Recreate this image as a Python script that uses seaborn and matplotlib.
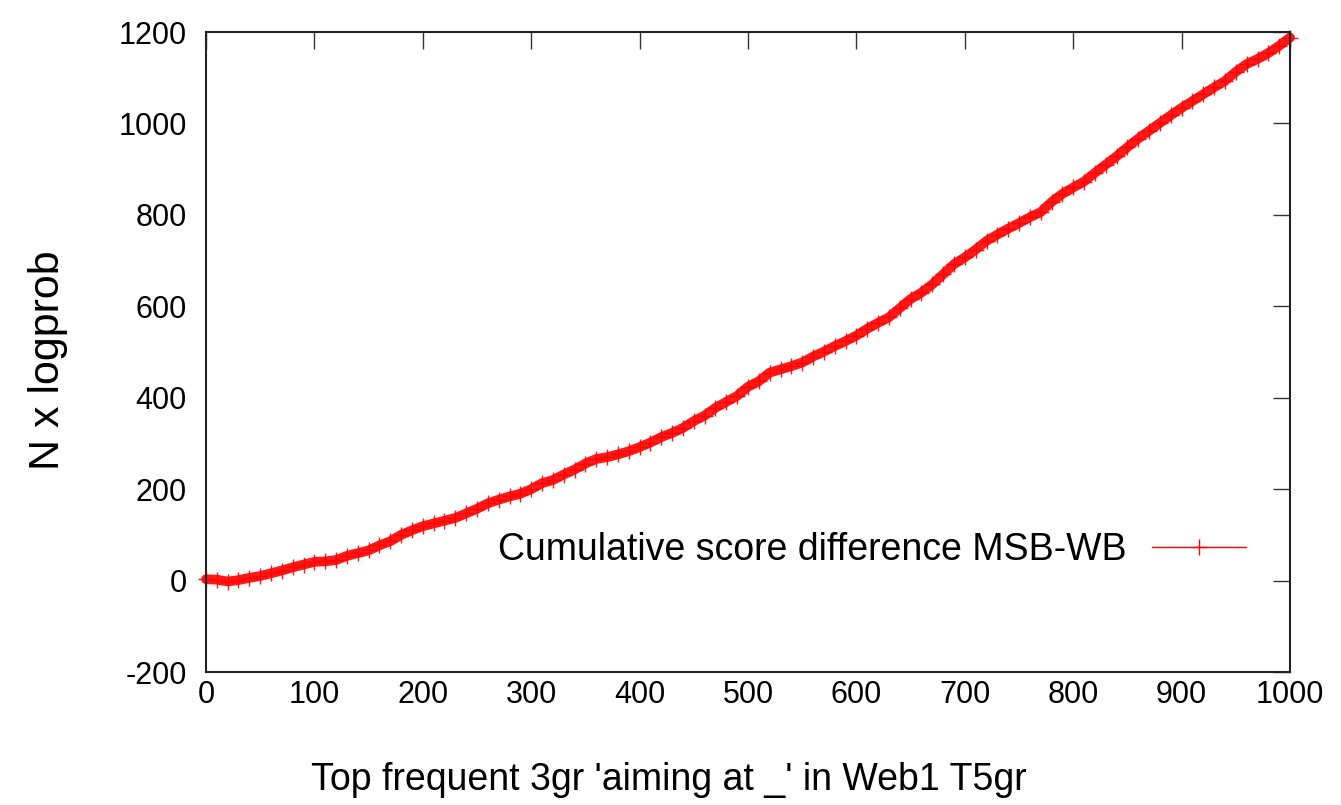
import numpy as np
import pandas as pd
import matplotlib
matplotlib.use("Agg")
import matplotlib.pyplot as plt
import seaborn as sns
from matplotlib.lines import Line2D

# values, every 10 ranks
rank = list(range(0, 1001, 10))
cum_score = [
    3, 2, -2, 1, 6, 10, 16, 22, 29, 35,
    41, 42, 45, 54, 60, 66, 77, 86, 100, 110,
    119, 125, 131, 137, 147, 157, 169, 177, 184, 190,
    200, 213, 220, 232, 243, 256, 266, 270, 276, 283,
    292, 302, 314, 323, 334, 349, 361, 378, 391, 404,
    424, 436, 455, 462, 469, 477, 490, 501, 513, 524,
    536, 551, 564, 576, 596, 616, 630, 648, 670, 692,
    707, 724, 743, 757, 770, 782, 795, 806, 828, 846,
    860, 873, 892, 910, 928, 948, 967, 984, 1001, 1018,
    1034, 1049, 1064, 1079, 1093, 1113, 1130, 1141, 1154, 1170,
    1188,
]
series_label = "Cumulative score difference MSB-WB"
x_ticks = list(range(0, 1001, 100))
y_ticks = list(range(-200, 1201, 200))

df = pd.DataFrame({"rank": rank, "score": cum_score})

sns.set_style("white")
plt.rcParams["font.family"] = ["Liberation Sans", "DejaVu Sans"]
plt.rcParams["axes.unicode_minus"] = False
plt.rcParams["text.color"] = "black"
plt.rcParams["axes.labelcolor"] = "black"

fig = plt.figure(figsize=(13.41, 8.05), dpi=100)
ax = fig.add_axes([0.1536, 0.1652, 0.8084, 0.795])

sns.lineplot(data=df, x="rank", y="score", ax=ax, color="#ff0000",
             linewidth=7, alpha=0.9, marker="+", markersize=12,
             markeredgewidth=1.0, markeredgecolor="#ff0000", clip_on=False)

ax.set_xlim(0, 1000)
ax.set_ylim(-200, 1200)
ax.set_xticks(x_ticks)
ax.set_yticks(y_ticks)
ax.tick_params(axis="both", direction="in", length=12, width=1,
               colors="#333333", labelcolor="black", labelsize=22,
               top=True, right=True)
ax.tick_params(axis="x", pad=6)
ax.tick_params(axis="y", pad=14)

for s in ax.spines.values():
    s.set_color("#222222")
    s.set_linewidth(1.5)

ax.set_xlabel("Top frequent 3gr 'aiming at _' in Web1 T5gr", fontsize=27)
ax.set_ylabel("N x logprob", fontsize=31)
ax.xaxis.set_label_coords(0.427, -0.14)
ax.yaxis.set_label_coords(-0.127, 0.4875)

handle = Line2D([], [], color="#ff0000", lw=1, marker="+", markersize=11,
                markeredgewidth=1)
ax.legend([handle], [series_label], loc="center right",
          bbox_to_anchor=(0.973, 0.19), frameon=False, fontsize=27,
          markerfirst=False, handlelength=2.5, handletextpad=0.67,
          borderaxespad=0)

fig.savefig("out.png", dpi=100)
